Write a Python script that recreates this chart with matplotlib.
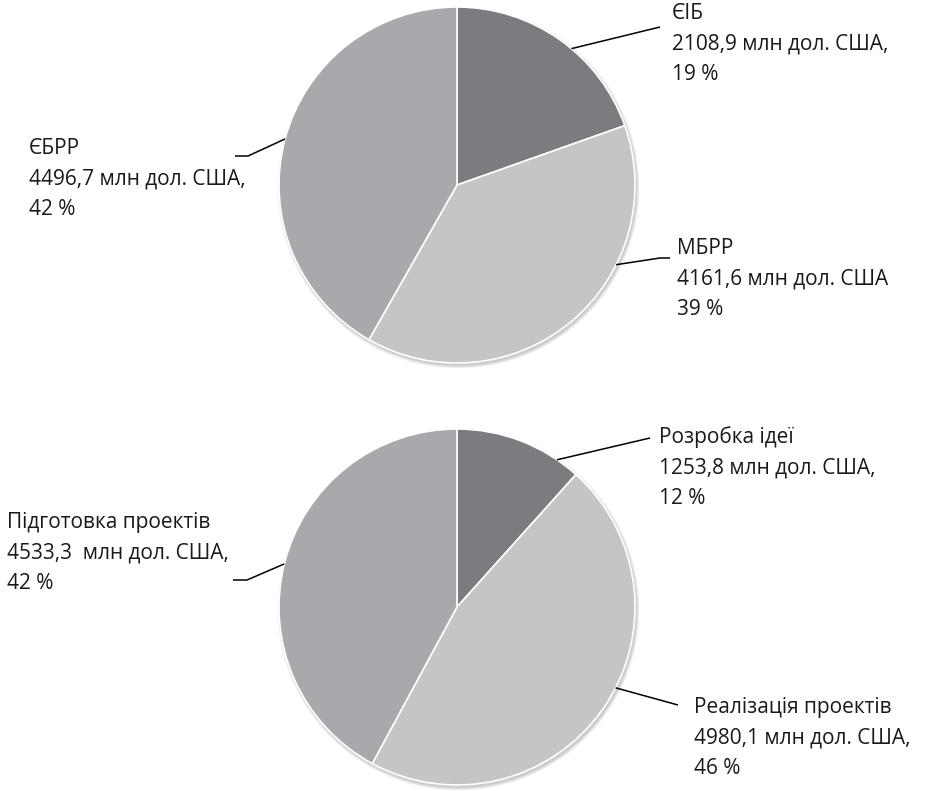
import matplotlib
matplotlib.use("Agg")
import matplotlib.pyplot as plt
from matplotlib.patches import Circle
import numpy as np

plt.rcParams["font.family"] = ["Open Sans", "DejaVu Sans"]

# Data
top_labels = ["ЄІБ", "МБРР", "ЄБРР"]
top_values = [2108.9, 4161.6, 4496.7]
top_texts = [
    "ЄІБ\n2108,9 млн дол. США,\n19 %",
    "МБРР\n4161,6 млн дол. США\n39 %",
    "ЄБРР\n4496,7 млн дол. США,\n42 %",
]

bottom_labels = ["Розробка ідеї", "Реалізація проектів", "Підготовка проектів"]
bottom_values = [1253.8, 4980.1, 4533.3]
bottom_texts = [
    "Розробка ідеї\n1253,8 млн дол. США,\n12 %",
    "Реалізація проектів\n4980,1 млн дол. США,\n46 %",
    "Підготовка проектів\n4533,3  млн дол. США,\n42 %",
]

colors = ["#7b7c80", "#c4c5c7", "#a8a9ad"]

W, H = 925, 791
fig = plt.figure(figsize=(W / 100, H / 100), dpi=100)
ax = fig.add_axes([0, 0, 1, 1])

R = 178
LINE_STEP = 28.5  # px between baselines


def draw_pie(cx, cy_pix, values, texts, layout):
    cy = H - cy_pix
    # soft shadow
    for i in range(6):
        ax.add_patch(Circle((cx + 1.5, cy - 2.5), R + 0.6 * i, color="black",
                            alpha=0.035, lw=0, zorder=0))
    wedges, _ = ax.pie(values, colors=colors, startangle=90, counterclock=False,
                       center=(cx, cy), radius=R,
                       wedgeprops=dict(edgecolor="white", linewidth=1.2))
    for w in wedges:
        w.set_zorder(1)
    # labels with leader lines
    for txt, (ang, elbow, end, tpos) in zip(texts, layout):
        a = np.deg2rad(ang)
        sx, sy = cx + R * np.cos(a), cy + R * np.sin(a)
        xs = [sx, elbow[0]] + ([end[0]] if end else [])
        ys = [sy, H - elbow[1]] + ([H - end[1]] if end else [])
        ax.plot(xs, ys, color="black", lw=1.1, zorder=2, solid_capstyle="butt")
        n = txt.count("\n")
        ax.text(tpos[0], H - (tpos[1] + n * LINE_STEP), txt, ha="left",
                va="baseline", fontsize=15, color="#1a1a1a", linespacing=1.6,
                zorder=3)


# layout: attach angle, elbow point, end point, first-line baseline (pixels)
top_layout = [
    (50, (660, 27), None, (672, 23)),
    (-26.6, (660, 258), (670, 258), (677, 258)),
    (165, (248, 156), (235, 156), (29, 158)),
]
bottom_layout = [
    (55.8, (650, 438), None, (659, 447)),
    (-27, (678, 705), None, (694, 717)),
    (166, (247, 580), (233, 580), (7, 532)),
]

draw_pie(457, 185, top_values, top_texts, top_layout)
draw_pie(457, 607, bottom_values, bottom_texts, bottom_layout)

ax.set_xlim(0, W)
ax.set_ylim(0, H)
ax.set_aspect("equal")
ax.axis("off")

fig.savefig("out.png", dpi=100, facecolor="white")
